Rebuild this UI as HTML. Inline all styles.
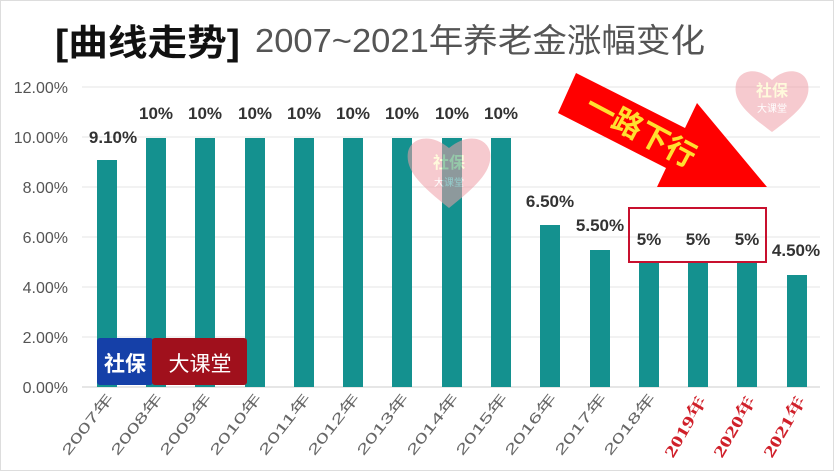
<!DOCTYPE html>
<html><head><meta charset="utf-8"><style>
body{margin:0;background:#fff;}
svg{display:block;font-family:"Liberation Sans","Noto Sans CJK SC",sans-serif;}
</style></head><body>
<svg width="834" height="471" viewBox="0 0 834 471" xmlns="http://www.w3.org/2000/svg">
<rect x="0.5" y="0.5" width="833" height="470" fill="#fff" stroke="#ddd"/>
<text x="55" y="55" font-size="36" font-weight="bold" fill="#111" textLength="185" lengthAdjust="spacingAndGlyphs">[曲线走势]</text>
<text x="255" y="52" font-size="33" fill="#555" textLength="450" lengthAdjust="spacingAndGlyphs">2007~2021年养老金涨幅变化</text>
<g stroke="#e6e6e6" stroke-width="1">
<line x1="82" y1="87" x2="820" y2="87"/><line x1="82" y1="137" x2="820" y2="137"/>
<line x1="82" y1="187" x2="820" y2="187"/><line x1="82" y1="237" x2="820" y2="237"/>
<line x1="82" y1="287" x2="820" y2="287"/><line x1="82" y1="337" x2="820" y2="337"/>
</g>
<line x1="82" y1="387" x2="820" y2="387" stroke="#ccc"/>
<g font-size="16" fill="#555" text-anchor="end">
<text x="68" y="93">12.00%</text><text x="68" y="143">10.00%</text><text x="68" y="193">8.00%</text>
<text x="68" y="243">6.00%</text><text x="68" y="293">4.00%</text><text x="68" y="343">2.00%</text><text x="68" y="393">0.00%</text>
</g>
<g fill="#14918f">
<rect x="97" y="160" width="20" height="227"/>
<rect x="146" y="138" width="20" height="249"/><rect x="195" y="138" width="20" height="249"/>
<rect x="245" y="138" width="20" height="249"/><rect x="294" y="138" width="20" height="249"/>
<rect x="343" y="138" width="20" height="249"/><rect x="392" y="138" width="20" height="249"/>
<rect x="442" y="138" width="20" height="249"/><rect x="491" y="138" width="20" height="249"/>
<rect x="540" y="225" width="20" height="162"/><rect x="590" y="250" width="20" height="137"/>
<rect x="639" y="262" width="20" height="125"/><rect x="688" y="262" width="20" height="125"/>
<rect x="737" y="262" width="20" height="125"/><rect x="787" y="275" width="20" height="112"/>
</g>
<g font-size="17" font-weight="bold" fill="#333" text-anchor="middle">
<text x="113" y="143">9.10%</text>
<text x="156" y="119">10%</text><text x="205" y="119">10%</text><text x="255" y="119">10%</text>
<text x="304" y="119">10%</text><text x="353" y="119">10%</text><text x="402" y="119">10%</text>
<text x="452" y="119">10%</text><text x="501" y="119">10%</text>
<text x="550" y="207">6.50%</text><text x="600" y="231">5.50%</text>
<text x="649" y="245">5%</text><text x="698" y="245">5%</text><text x="747" y="245">5%</text>
<text x="796" y="256">4.50%</text>
</g>
<rect x="629" y="208" width="137" height="54" fill="none" stroke="#c8102e" stroke-width="2"/>
<g font-size="14" fill="#666" text-anchor="end">
<text transform="translate(114,398) rotate(-52)" textLength="74" lengthAdjust="spacingAndGlyphs">2007年</text>
<text transform="translate(163,398) rotate(-52)" textLength="74" lengthAdjust="spacingAndGlyphs">2008年</text>
<text transform="translate(212,398) rotate(-52)" textLength="74" lengthAdjust="spacingAndGlyphs">2009年</text>
<text transform="translate(262,398) rotate(-52)" textLength="74" lengthAdjust="spacingAndGlyphs">2010年</text>
<text transform="translate(311,398) rotate(-52)" textLength="74" lengthAdjust="spacingAndGlyphs">2011年</text>
<text transform="translate(360,398) rotate(-52)" textLength="74" lengthAdjust="spacingAndGlyphs">2012年</text>
<text transform="translate(409,398) rotate(-52)" textLength="74" lengthAdjust="spacingAndGlyphs">2013年</text>
<text transform="translate(459,398) rotate(-52)" textLength="74" lengthAdjust="spacingAndGlyphs">2014年</text>
<text transform="translate(508,398) rotate(-52)" textLength="74" lengthAdjust="spacingAndGlyphs">2015年</text>
<text transform="translate(557,398) rotate(-52)" textLength="74" lengthAdjust="spacingAndGlyphs">2016年</text>
<text transform="translate(607,398) rotate(-52)" textLength="74" lengthAdjust="spacingAndGlyphs">2017年</text>
<text transform="translate(656,398) rotate(-52)" textLength="74" lengthAdjust="spacingAndGlyphs">2018年</text>
</g>
<g font-size="16" fill="#d0202a" font-weight="bold" text-anchor="end" font-family="Liberation Serif,Noto Serif CJK SC,serif">
<text transform="translate(707,400) rotate(-60)" textLength="68" lengthAdjust="spacingAndGlyphs">2019年</text>
<text transform="translate(756,400) rotate(-60)" textLength="68" lengthAdjust="spacingAndGlyphs">2020年</text>
<text transform="translate(806,400) rotate(-60)" textLength="68" lengthAdjust="spacingAndGlyphs">2021年</text>
</g>
<polygon points="576,73 685,128 697,103 767,187 657,187 666,168 558,113" fill="#f00"/>
<text transform="translate(636,140) rotate(28)" font-size="30" font-weight="bold" fill="#ffe030" text-anchor="middle">一路下行</text>
<g opacity="0.55">
<path d="M449,208 C420,185 405,170 408,152 C411,138 430,132 449,148 C468,132 487,138 490,152 C493,170 478,185 449,208Z" fill="#f0a0a8"/>
<text x="449" y="168" font-size="16" font-weight="bold" fill="#fff6c0" text-anchor="middle">社保</text>
<text x="449" y="186" font-size="10" fill="#fff" text-anchor="middle">大课堂</text>
<path d="M772,132 C745,112 733,100 736,84 C739,70 757,66 772,80 C787,66 805,70 808,84 C811,100 799,112 772,132Z" fill="#f0a0a8"/>
<text x="772" y="96" font-size="16" font-weight="bold" fill="#fff6c0" text-anchor="middle">社保</text>
<text x="772" y="112" font-size="10" fill="#fff" text-anchor="middle">大课堂</text>
</g>
<rect x="97" y="338" width="56" height="47" rx="3" fill="#1540a8"/>
<rect x="152" y="338" width="95" height="47" rx="3" fill="#a0101c"/>
<text x="125" y="371" font-size="21" font-weight="bold" fill="#fff" text-anchor="middle">社保</text>
<text x="200" y="371" font-size="21" fill="#fff" text-anchor="middle">大课堂</text>
</svg>
</body></html>
